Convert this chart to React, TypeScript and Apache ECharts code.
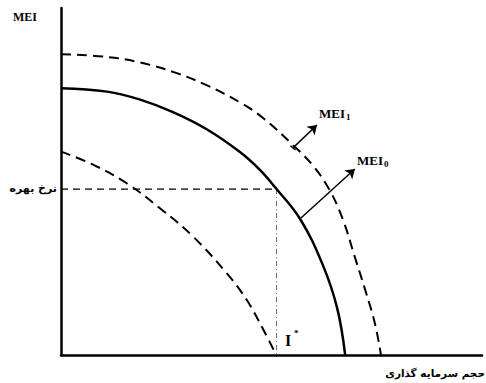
import React, { useEffect, useRef } from "react";
import * as echarts from "echarts";

// Curves (x: investment volume, y: rate), units 0..100
const mei0Curve: number[][] = [
  [0, 76.9], [10.9, 75.9], [18.8, 73.6], [26.6, 70.0], [34.7, 65.0], [42.5, 58.5],
  [47.3, 53.3], [50.8, 48.4], [56.8, 39.2], [62.2, 25.9], [65.6, 13.5], [67.5, 0],
];
const mei1Curve: number[][] = [
  [0, 86.7], [10.9, 85.9], [18.8, 84.3], [26.6, 81.6], [34.7, 77.7], [42.5, 72.8],
  [48.0, 68.3], [55.1, 60.5], [59.9, 54.5], [63.9, 47.3], [67.0, 38.9], [69.8, 28.2],
  [72.4, 18.2], [74.6, 8.9], [76.0, 0],
];
const lowerCurve: number[][] = [
  [0, 58.6], [7.7, 54.8], [15.6, 49.5], [23.5, 42.3], [31.4, 34.1], [39.4, 23.5],
  [44.1, 15.9], [48.1, 7.2], [51.1, 0],
];
const interestRate = 47.8;
const iStar = 51.2;
const mei0Arrow: number[][] = [[57.0, 39.5], [69.8, 53.6]];
const mei1Arrow: number[][] = [[55.1, 59.7], [60.8, 66.3]];
const mei1ArrowBase: number[][] = [[54.5, 60.3], [55.7, 59.1]];

const yAxisTitle = "MEI";
const rateLabel = "نرخ بهره";
const xAxisTitle = "حجم سرمایه گذاری";

const serif = "'Liberation Serif', 'Times New Roman', serif";
const arabic = "'DejaVu Sans', sans-serif";

export default function App() {
  const ref = useRef<HTMLDivElement>(null);
  useEffect(() => {
    if (!ref.current) return;
    const chart = echarts.init(ref.current, undefined, { renderer: "svg" });
    const txt = (text: string, x: number, y: number, font: string, align: string, va: string, extra: any = {}) => ({
      type: "text",
      x,
      y,
      style: {
        text,
        font,
        fill: "#000",
        align,
        verticalAlign: va,
        textAlign: align,
        textVerticalAlign: va,
        ...extra,
      },
    });
    const sub = {
      a: { font: `bold 13px ${serif}`, fill: "#000" },
      b: { font: `bold 9px ${serif}`, fill: "#000", padding: [8, 0, 0, 1] },
    };
    chart.setOption({
      animation: false,
      backgroundColor: "#fff",
      grid: { left: 61, top: 8, right: 4, bottom: 28, containLabel: false },
      xAxis: {
        type: "value",
        min: 0,
        max: 100,
        axisLine: { show: true, lineStyle: { color: "#000", width: 2.5 } },
        axisTick: { show: false },
        axisLabel: { show: false },
        splitLine: { show: false },
      },
      yAxis: {
        type: "value",
        min: 0,
        max: 100,
        axisLine: { show: true, lineStyle: { color: "#000", width: 2.5 } },
        axisTick: { show: false },
        axisLabel: { show: false },
        splitLine: { show: false },
      },
      series: [
        {
          type: "line",
          data: mei1Curve,
          smooth: 0.4,
          symbol: "none",
          lineStyle: { color: "#000", width: 2, type: [10, 6] },
          z: 3,
        },
        {
          type: "line",
          data: mei0Curve,
          smooth: 0.4,
          symbol: "none",
          lineStyle: { color: "#000", width: 2.5, type: "solid" },
          z: 4,
        },
        {
          type: "line",
          data: lowerCurve,
          smooth: 0.4,
          symbol: "none",
          lineStyle: { color: "#000", width: 2, type: [10, 6] },
          z: 3,
        },
        {
          type: "line",
          data: [[0, interestRate], [iStar, interestRate]],
          symbol: "none",
          lineStyle: { color: "#000", width: 1.2, type: [7, 5] },
          z: 2,
        },
        {
          type: "line",
          data: [[iStar, interestRate], [iStar, 0]],
          symbol: "none",
          lineStyle: { color: "#666", width: 1, type: [5, 3, 1, 3] },
          z: 2,
        },
        {
          type: "line",
          data: mei1ArrowBase,
          symbol: "none",
          lineStyle: { color: "#000", width: 1.5 },
          z: 5,
        },
        {
          type: "lines",
          coordinateSystem: "cartesian2d",
          symbol: ["none", "arrow"],
          symbolSize: 9,
          lineStyle: { color: "#000", width: 1.5, opacity: 1, curveness: 0 },
          data: [{ coords: mei0Arrow }, { coords: mei1Arrow }],
          z: 5,
        },
      ],
      graphic: [
        txt(yAxisTitle, 13, 17, `bold 12px ${serif}`, "left", "middle"),
        txt(rateLabel, 57, 188, `bold 11px ${arabic}`, "right", "middle"),
        txt(xAxisTitle, 485, 373, `bold 10.5px ${arabic}`, "right", "middle"),
        txt("{a|MEI}{b|0}", 357, 160, `bold 13px ${serif}`, "left", "middle", { rich: sub }),
        txt("{a|MEI}{b|1}", 319, 113, `bold 13px ${serif}`, "left", "middle", { rich: sub }),
        txt("I", 285, 340, `bold 16px ${serif}`, "left", "middle"),
        txt("*", 294, 333, `bold 9px ${serif}`, "left", "middle"),
      ],
    });
    return () => chart.dispose();
  }, []);
  return (
    <div
      ref={ref}
      style={{ position: "fixed", left: 0, top: 0, width: 486, height: 383, background: "#fff" }}
    />
  );
}
